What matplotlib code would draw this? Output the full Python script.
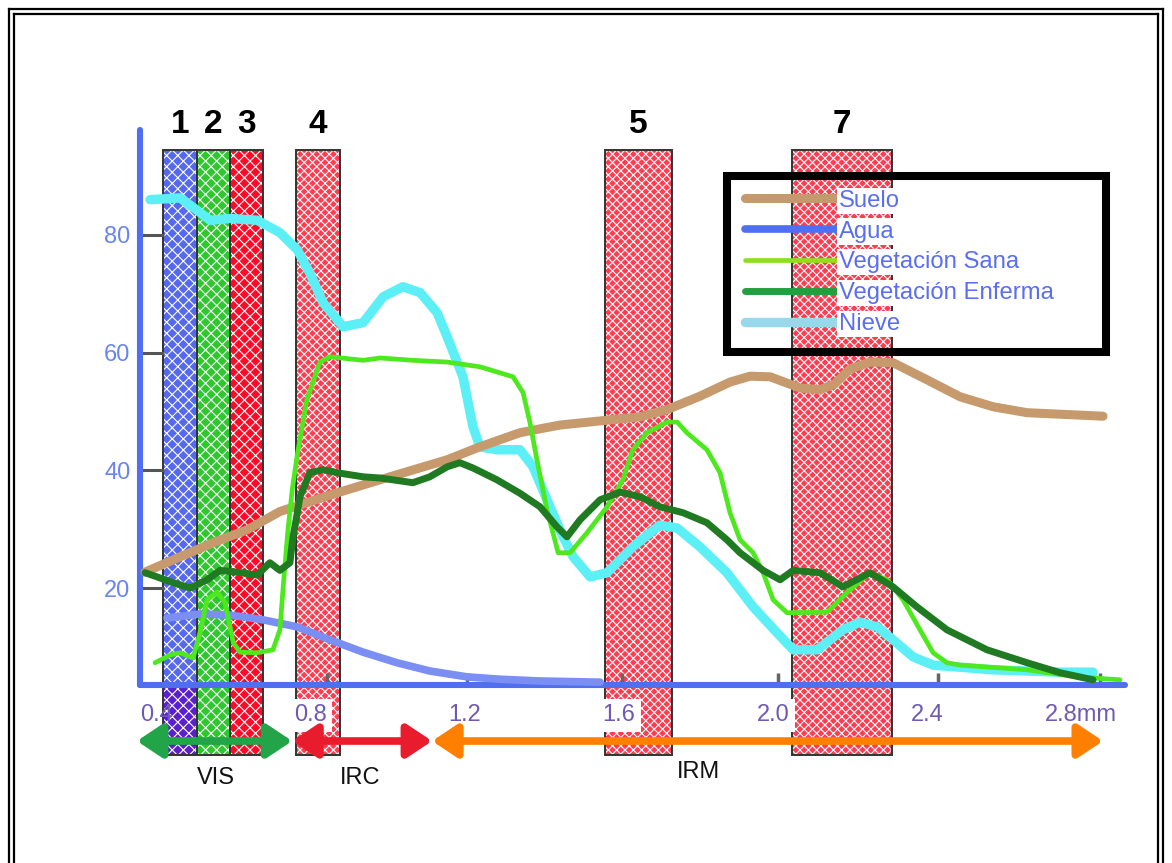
import matplotlib
matplotlib.use('Agg')
import matplotlib.pyplot as plt
from matplotlib.patches import Rectangle
from matplotlib.lines import Line2D

plt.rcParams['font.family'] = ['Liberation Sans', 'DejaVu Sans']
plt.rcParams['hatch.linewidth'] = 0.8

# ---------------- data ----------------
band_names = ['1', '2', '3', '4', '5', '7']
band_lo = [0.418, 0.506, 0.592, 0.763, 1.565, 2.050]
band_hi = [0.506, 0.592, 0.677, 0.877, 1.739, 2.309]
band_colors = ['#5468f0', '#2ec82e', '#ff0a26', '#ff3c50', '#ff3c50', '#ff3c50']
band_hatches = ['xxx', 'xxx', 'xxx', 'xxxx', 'xxxx', 'xxxx']

xtick_vals = [0.4, 0.8, 1.2, 1.6, 2.0, 2.4, 2.8]
xtick_labels = ['0.4', '0.8', '1.2', '1.6', '2.0', '2.4', '2.8mm']
ytick_vals = [20, 40, 60, 80]
xmark_pos = [0.843, 1.206, 1.609, 2.014, 2.430, 2.849]

region_names = ['VIS', 'IRC', 'IRM']
region_lo = [0.350, 0.753, 1.116]
region_hi = [0.753, 1.116, 2.857]
region_colors = ['#22a448', '#e81c2c', '#ff8000']
region_label_x = [0.555, 0.929, 1.806]
region_label_y = [-12.3, -12.3, -11.3]

suelo_x = [0.371, 0.462, 0.548, 0.636, 0.721, 0.851, 0.981, 1.155, 1.240, 1.344, 1.448,
           1.552, 1.656, 1.725, 1.811, 1.889, 1.941, 1.993, 2.071, 2.123, 2.161, 2.200,
           2.252, 2.312, 2.400, 2.486, 2.572, 2.660, 2.857]
suelo_y = [22.7, 25.3, 27.7, 29.9, 33.0, 35.8, 38.4, 41.8, 44.0, 46.4, 47.7,
           48.4, 49.1, 50.3, 52.6, 55.0, 56.0, 55.9, 54.0, 53.7, 54.7, 57.2,
           58.4, 58.3, 55.4, 52.5, 50.8, 49.8, 49.2]

agua_x = [0.428, 0.514, 0.592, 0.677, 0.766, 0.851, 0.937, 1.025, 1.110, 1.207, 1.292, 1.396, 1.552]
agua_y = [14.9, 15.6, 15.4, 14.6, 13.4, 11.2, 9.1, 7.3, 5.9, 4.9, 4.5, 4.2, 4.0]

sana_x = [0.397, 0.436, 0.462, 0.496, 0.514, 0.532, 0.558, 0.579, 0.600, 0.618, 0.662,
          0.703, 0.721, 0.731, 0.742, 0.753, 0.766, 0.791, 0.825, 0.851, 0.937, 0.981,
          1.066, 1.155, 1.240, 1.326, 1.352, 1.370, 1.388, 1.414, 1.443, 1.474, 1.518,
          1.570, 1.611, 1.637, 1.674, 1.725, 1.752, 1.777, 1.829, 1.863, 1.889, 1.915,
          1.949, 1.975, 2.001, 2.037, 2.141, 2.192, 2.252, 2.297, 2.338, 2.382, 2.416,
          2.452, 2.486, 2.660, 2.790, 2.901]
sana_y = [7.3, 8.6, 9.0, 8.1, 12.5, 18.0, 19.3, 17.5, 10.7, 9.1, 9.0,
          9.5, 12.9, 21.4, 29.9, 36.7, 42.6, 52.0, 58.4, 59.3, 58.7, 59.1,
          58.7, 58.4, 57.6, 55.9, 53.2, 48.1, 41.8, 33.3, 26.0, 26.0, 29.4,
          33.8, 38.4, 43.5, 46.4, 48.2, 48.2, 46.4, 43.5, 39.6, 32.8, 28.2,
          26.0, 22.6, 18.0, 15.8, 15.9, 19.2, 22.6, 21.4, 18.0, 12.9, 9.0,
          7.3, 6.9, 6.1, 4.9, 4.4]

enferma_x = [0.371, 0.402, 0.444, 0.488, 0.532, 0.566, 0.610, 0.662, 0.695, 0.721, 0.747,
             0.755, 0.763, 0.773, 0.799, 0.833, 0.869, 0.937, 0.981, 1.066, 1.110, 1.155,
             1.188, 1.222, 1.284, 1.344, 1.396, 1.440, 1.466, 1.500, 1.552, 1.604, 1.656,
             1.707, 1.767, 1.829, 1.881, 1.915, 1.975, 2.019, 2.053, 2.123, 2.182, 2.252,
             2.312, 2.374, 2.452, 2.556, 2.660, 2.746, 2.831]
enferma_y = [22.6, 21.9, 20.9, 20.0, 21.4, 23.0, 22.7, 22.2, 24.3, 23.0, 24.3,
             28.7, 31.6, 35.5, 39.6, 40.1, 39.6, 38.9, 38.7, 37.9, 38.9, 40.6,
             41.3, 40.4, 38.4, 36.1, 33.8, 30.4, 28.7, 31.6, 35.0, 36.3, 35.5,
             33.8, 32.8, 31.1, 28.2, 26.0, 23.0, 21.4, 23.0, 22.6, 20.2, 22.6,
             20.2, 16.8, 12.9, 9.5, 7.3, 5.6, 4.4]

nieve_x = [0.384, 0.462, 0.506, 0.540, 0.592, 0.662, 0.721, 0.766, 0.799, 0.833, 0.885,
           0.937, 0.989, 1.040, 1.085, 1.129, 1.155, 1.196, 1.222, 1.240, 1.284, 1.344,
           1.378, 1.414, 1.456, 1.482, 1.526, 1.570, 1.637, 1.707, 1.752, 1.811, 1.881,
           1.949, 2.011, 2.053, 2.115, 2.182, 2.226, 2.271, 2.312, 2.364, 2.416, 2.572,
           2.746, 2.831]
nieve_y = [86.0, 86.3, 84.2, 82.5, 82.8, 82.5, 80.4, 77.5, 73.5, 68.5, 64.4,
           65.1, 69.5, 71.2, 70.2, 66.8, 62.7, 55.9, 47.4, 44.0, 43.5, 43.5,
           40.6, 35.0, 28.7, 25.3, 21.9, 22.6, 27.0, 30.7, 30.2, 27.0, 22.6,
           16.8, 12.4, 9.5, 9.5, 12.9, 14.2, 13.4, 11.2, 8.3, 6.9, 6.1,
           5.7, 5.7]

series_names = ['Suelo', 'Agua', 'Vegetación Sana', 'Vegetación Enferma', 'Nieve']
series_colors = ['#c69a6c', '#7a8ef4', '#4ee81e', '#1f7a22', '#5cf0f6']
legend_colors = ['#c49a6c', '#4f6ef0', '#8ee01e', '#22a040', '#98d8ea']

# ---------------- figure ----------------
W, H = 1172, 863
fig = plt.figure(figsize=(W / 100, H / 100), dpi=100)
fig.patch.set_facecolor('white')
ax = fig.add_axes([140 / W, (H - 685) / H, (1125 - 140) / W, (685 - 130) / H])
ax.set_xlim(0.358, 2.914)
ax.set_ylim(3.52, 97.84)
ax.set_facecolor('none')

axis_blue = '#4f6ef0'
for s in ['top', 'right']:
    ax.spines[s].set_visible(False)
for s in ['left', 'bottom']:
    ax.spines[s].set_color(axis_blue)
    ax.spines[s].set_linewidth(4.4)
    ax.spines[s].set_capstyle('round')
    ax.spines[s].set_zorder(2.6)

ax.set_yticks(ytick_vals)
ax.tick_params(axis='y', direction='in', length=17, width=2.2, color='#555555',
               labelcolor='#6a84f0', labelsize=17, pad=7)
ax.set_xticks(xtick_vals, xtick_labels)
ax.tick_params(axis='x', length=0, labelcolor='#6e5ab4', labelsize=17, pad=14)
for lbl in ax.get_xticklabels()[1:]:
    lbl.set_bbox(dict(facecolor='white', edgecolor='none', pad=4))

# spectral bands
y_top, y_bot = 94.5, -8.4
for i, (lo, hi) in enumerate(zip(band_lo, band_hi)):
    ax.add_patch(Rectangle((lo, y_bot), hi - lo, y_top - y_bot, facecolor=band_colors[i],
                           edgecolor='none', zorder=1, clip_on=False))
    ax.add_patch(Rectangle((lo, y_bot), hi - lo, y_top - y_bot, fill=False,
                           hatch=band_hatches[i], edgecolor='white', lw=0, zorder=1.1,
                           clip_on=False))
    ax.add_patch(Rectangle((lo, y_bot), hi - lo, y_top - y_bot, fill=False,
                           edgecolor='#333333', lw=1.4, zorder=1.2, clip_on=False))
    ax.text((lo + hi) / 2, 98.7, band_names[i], ha='center', va='center', fontsize=24,
            fontweight='bold', color='black', clip_on=False)
# darker lower part of band 1
ax.add_patch(Rectangle((band_lo[0], y_bot), band_hi[0] - band_lo[0], 3.52 - y_bot,
                       facecolor='#5a20d0', edgecolor='none', zorder=1.05, clip_on=False))

# small gray marks on the x axis
ax.vlines(xmark_pos, 3.6, 5.6, color='#666666', lw=2.5, zorder=2.5)

# curves
lws = [6.5, 5.5, 3.4, 5.0, 6.8]
data = [(suelo_x, suelo_y), (agua_x, agua_y), (sana_x, sana_y),
        (enferma_x, enferma_y), (nieve_x, nieve_y)]
zs = [3.2, 3.0, 3.3, 3.4, 3.1]
handles = []
for (xs, ys), name, c, lw, z in zip(data, series_names, series_colors, lws, zs):
    ln, = ax.plot(xs, ys, color=c, lw=lw, label=name, solid_capstyle='round',
                  solid_joinstyle='round', zorder=z, clip_on=False)
    handles.append(ln)

# legend
leg = ax.legend(handles=handles, loc='upper left', bbox_to_anchor=(1.928, 87.7),
                bbox_transform=ax.transData, frameon=False, fontsize=17.2,
                handlelength=3.85, handletextpad=0.08, labelspacing=0.37,
                borderpad=0, borderaxespad=0, labelcolor='#5a6ef0')
leg.set_zorder(6)
for ln, c in zip(leg.get_lines(), legend_colors):
    ln.set_color(c)
    ln.set_solid_capstyle('round')
for t in leg.get_texts():
    t.set_bbox(dict(facecolor='white', edgecolor='none', pad=1.5))
ax.add_patch(Rectangle((1.881, 60.1), 2.865 - 1.881, 90.0 - 60.1, fill=False,
                       edgecolor='black', lw=5.8, zorder=7, clip_on=False))

# region arrows
for lo, hi, c in zip(region_lo, region_hi, region_colors):
    ax.annotate('', xy=(hi, -6.0), xytext=(lo, -6.0), xycoords='data',
                arrowprops=dict(arrowstyle='<|-|>,head_length=0.75,head_width=0.5',
                                color=c, lw=5.5, shrinkA=0, shrinkB=0, mutation_scale=20),
                annotation_clip=False, zorder=4)
for name, x, y in zip(region_names, region_label_x, region_label_y):
    ax.text(x, y, name, ha='center', va='center', fontsize=17, color='#111111', clip_on=False)

# double frame around the picture
def fl(x0, y0, x1, y1):
    fig.add_artist(Line2D([x0 / W, x1 / W], [1 - y0 / H, 1 - y1 / H], color='black',
                          lw=1.6, transform=fig.transFigure))

for off in (9, 14):
    fl(off, off, W - off, off)
    fl(off, off, off, H)
    fl(W - off, off, W - off, H)

fig.savefig('out.png', dpi=100)
